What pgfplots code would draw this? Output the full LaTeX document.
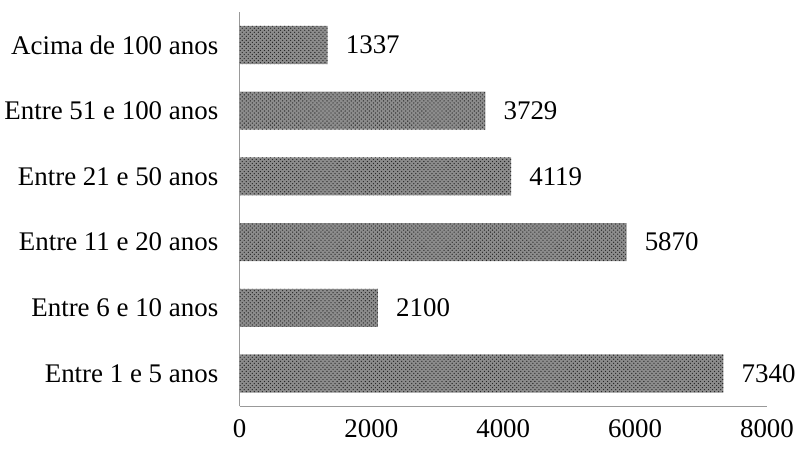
\documentclass[border=0pt]{standalone}
\usepackage{pgfplots}
\pgfplotsset{compat=1.18}
\usetikzlibrary{patterns}
\usepackage{fontspec}
\setmainfont{Liberation Serif}
\begin{document}
\begin{tikzpicture}
\begin{axis}[
  scale only axis,
  width=392pt, height=293pt,
  xbar, bar width=0.58,
  xmin=0, xmax=8000,
  ymin=-0.5, ymax=5.5,
  ytick={0,1,2,3,4,5},
  yticklabels={Entre 1 e 5 anos, Entre 6 e 10 anos, Entre 11 e 20 anos, Entre 21 e 50 anos, Entre 51 e 100 anos, Acima de 100 anos},
  xtick={0,2000,4000,6000,8000},
  scaled x ticks=false,
  /pgf/number format/1000 sep={},
  /pgf/number format/assume math mode=true,
  tick style={draw=none},
  axis x line*=bottom, axis y line*=left,
  axis line style={draw=gray!80, line width=1pt},
  tick label style={font=\fontsize{20}{24}\selectfont},
  yticklabel style={xshift=-8pt},
  xticklabel style={yshift=-6pt},
  nodes near coords,
  nodes near coords style={font=\fontsize{20}{24}\selectfont, black, anchor=west, xshift=10pt},
  every node near coord/.append style={/pgf/number format/1000 sep={}, /pgf/number format/assume math mode=true},
  clip=false,
]
\addplot[draw=none, fill=black!45, postaction={pattern=crosshatch dots, pattern color=black!85}] coordinates {
  (7340,0) (2100,1) (5870,2) (4119,3) (3729,4) (1337,5)
};
\end{axis}
\path ([yshift=9pt]current axis.north);
\path ([yshift=-4pt]current axis.south) ++(0,-30pt);
\end{tikzpicture}
\end{document}
